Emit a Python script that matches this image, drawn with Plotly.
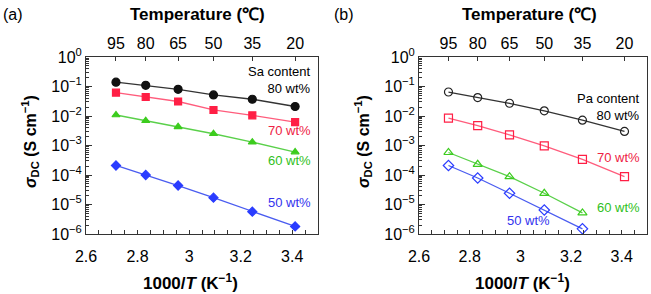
import plotly.graph_objects as go

# ---------------- data ----------------
temps_c = [95, 80, 65, 50, 35, 20]
inv_T = [1000.0 / (t + 273.15) for t in temps_c]

sa80 = [0.14, 0.11, 0.08, 0.052, 0.037, 0.021]
sa70 = [0.062, 0.044, 0.031, 0.016, 0.0105, 0.0062]
sa60 = [0.0108, 0.0069, 0.0043, 0.0025, 0.0013, 0.0006]
sa50 = [2.1e-4, 1.0e-4, 4.4e-5, 1.7e-5, 5.7e-6, 1.8e-6]

pa80 = [0.065, 0.042, 0.027, 0.015, 0.0072, 0.003]
pa70 = [0.0085, 0.0047, 0.0023, 0.00097, 0.00034, 8.8e-5]
pa60 = [5.8e-4, 2.3e-4, 8.8e-5, 2.4e-5, 5.2e-6]
pa50 = [2.1e-4, 7.9e-5, 2.4e-5, 6.5e-6, 1.5e-6]

y_exps = [0, -1, -2, -3, -4, -5, -6]
y_ticktext = ["10<sup>%s</sup>" % (str(e).replace("-", "\u2212")) for e in y_exps]
x_ticks = [2.6, 2.8, 3.0, 3.2, 3.4]
x_ticktext = ["2.6", "2.8", "3", "3.2", "3.4"]

# ---------------- styles ----------------
W, H = 651, 294
BLACK = "#111111"
RED_M, RED_L = "#ff1f45", "#ff5c7c"
GREEN_M, GREEN_L = "#3ccc1e", "#5ad04a"
BLUE_M, BLUE_L = "#2a3cff", "#4a5cf0"
AX = "#333333"
FONT = "Liberation Sans, Arial, sans-serif"

fig = go.Figure()

def px2paper(px, py):
    return px / W, 1 - py / H

dom_a = [86 / W, 318 / W]
dom_b = [419 / W, 647 / W]
ydom = [1 - 234 / H, 1 - 57 / H]

def add_series(x, y, xa, ya, mcol, lcol, symbol, size):
    fig.add_trace(go.Scatter(
        x=x, y=y, xaxis=xa, yaxis=ya, mode="lines+markers",
        line=dict(color=lcol, width=1.3),
        marker=dict(color=mcol, symbol=symbol, size=size,
                    line=dict(color=mcol, width=1.2)),
        showlegend=False, cliponaxis=False))

# panel a
add_series(inv_T, sa80, "x", "y", BLACK, "#333333", "circle", 8)
add_series(inv_T, sa70, "x", "y", RED_M, RED_L, "square", 7)
add_series(inv_T, sa60, "x", "y", GREEN_M, GREEN_L, "triangle-up", 7)
add_series(inv_T, sa50, "x", "y", BLUE_M, BLUE_L, "diamond", 7)
# panel b
add_series(inv_T, pa80, "x2", "y2", "#222222", "#333333", "circle-open", 8)
add_series(inv_T, pa70, "x2", "y2", RED_M, RED_L, "square-open", 8)
add_series(inv_T[:5], pa60, "x2", "y2", GREEN_M, GREEN_L, "triangle-up-open", 8)
add_series(inv_T[:5], pa50, "x2", "y2", BLUE_M, BLUE_L, "diamond-open", 8)

# invisible traces so the top (temperature) axes are drawn
for xa, ya, yy in [("x3", "y", sa80), ("x4", "y2", pa80)]:
    fig.add_trace(go.Scatter(x=inv_T, y=yy, xaxis=xa, yaxis=ya, mode="markers",
                             marker=dict(opacity=0), hoverinfo="skip", showlegend=False))

tickfont = dict(family=FONT, size=16, color="black")

def xaxis_bottom(dom, anchor):
    return dict(domain=dom, anchor=anchor, range=[2.6, 3.5], automargin=False,
                tickvals=x_ticks, ticktext=x_ticktext,
                ticks="inside", ticklen=4, tickcolor=AX,
                minor=dict(dtick=0.05, tick0=2.6, ticks="inside", ticklen=4, tickcolor=AX),
                showline=True, linecolor=AX, linewidth=1, mirror=True,
                showgrid=False, zeroline=False, tickfont=tickfont,
                ticklabelstandoff=8)

def xaxis_top(overlay, anchor):
    return dict(overlaying=overlay, anchor=anchor, side="top", range=[2.6, 3.5],
                automargin=False,
                tickvals=inv_T, ticktext=[str(t) for t in temps_c],
                ticks="inside", ticklen=4, tickcolor=AX,
                showline=False, showgrid=False, zeroline=False,
                tickfont=tickfont, ticklabelstandoff=4)

minor_vals = [k * 10.0 ** e for e in range(-6, 0) for k in range(2, 10)]

def yaxis(anchor):
    return dict(domain=ydom, anchor=anchor, type="log", range=[-6, 0], automargin=False,
                tickvals=[10.0 ** e for e in y_exps], ticktext=y_ticktext,
                ticks="inside", ticklen=6, tickcolor=AX,
                minor=dict(tickvals=minor_vals, ticks="inside", ticklen=3, tickcolor=AX),
                showline=True, linecolor=AX, linewidth=1, mirror=True,
                showgrid=False, zeroline=False, tickfont=tickfont)

fig.update_layout(
    width=W, height=H, margin=dict(l=0, r=0, t=0, b=0, autoexpand=False),
    paper_bgcolor="white", plot_bgcolor="white",
    xaxis=xaxis_bottom(dom_a, "y"),
    yaxis=yaxis("x"),
    xaxis2=xaxis_bottom(dom_b, "y2"),
    yaxis2=yaxis("x2"),
    xaxis3=xaxis_top("x", "y"),
    xaxis4=xaxis_top("x2", "y2"),
)

ann = []

def text(px, py, s, size=16, color="black", xanchor="center", angle=0, align="center"):
    x, y = px2paper(px, py)
    ann.append(dict(x=x, y=y, xref="paper", yref="paper", text=s, showarrow=False,
                    xanchor=xanchor, yanchor="middle", textangle=angle, align=align,
                    font=dict(family=FONT, size=size, color=color)))

for off, lab in [(0, "(a)"), (331, "(b)")]:
    text(1 + off, 14, lab, size=16, xanchor="left")
text(197, 15, "<b>Temperature (\u2103)</b>", size=17)
text(529, 15, "<b>Temperature (\u2103)</b>", size=17)
text(190, 282, "<b>1000/<i>T</i> (K<sup>\u22121</sup>)</b>", size=17)
text(522, 282, "<b>1000/<i>T</i> (K<sup>\u22121</sup>)</b>", size=17)
text(30, 142, "<b><i>\u03c3</i><sub>DC</sub> (S cm<sup>\u22121</sup>)</b>", size=16, angle=-90)
text(363, 142, "<b><i>\u03c3</i><sub>DC</sub> (S cm<sup>\u22121</sup>)</b>", size=16, angle=-90)

# series labels panel a
text(313, 80, "Sa content<br>80 wt%", size=13, xanchor="right", align="right")
text(313, 131, "70 wt%", size=13, color="#ee2244", xanchor="right")
text(313, 160, "60 wt%", size=13, color="#2fbf22", xanchor="right")
text(313, 202, "50 wt%", size=13, color="#3333ee", xanchor="right")
# panel b
text(642, 107, "Pa content<br>80 wt%", size=13, xanchor="right", align="right")
text(642, 157, "70 wt%", size=13, color="#ee2244", xanchor="right")
text(642, 207, "60 wt%", size=13, color="#2fbf22", xanchor="right")
text(552, 220, "50 wt%", size=13, color="#3333ee", xanchor="right")

fig.update_layout(annotations=ann)
fig.write_html("out.html", config={"displayModeBar": False},
               post_script="document.body.style.margin='0px';document.body.style.overflow='hidden';")
